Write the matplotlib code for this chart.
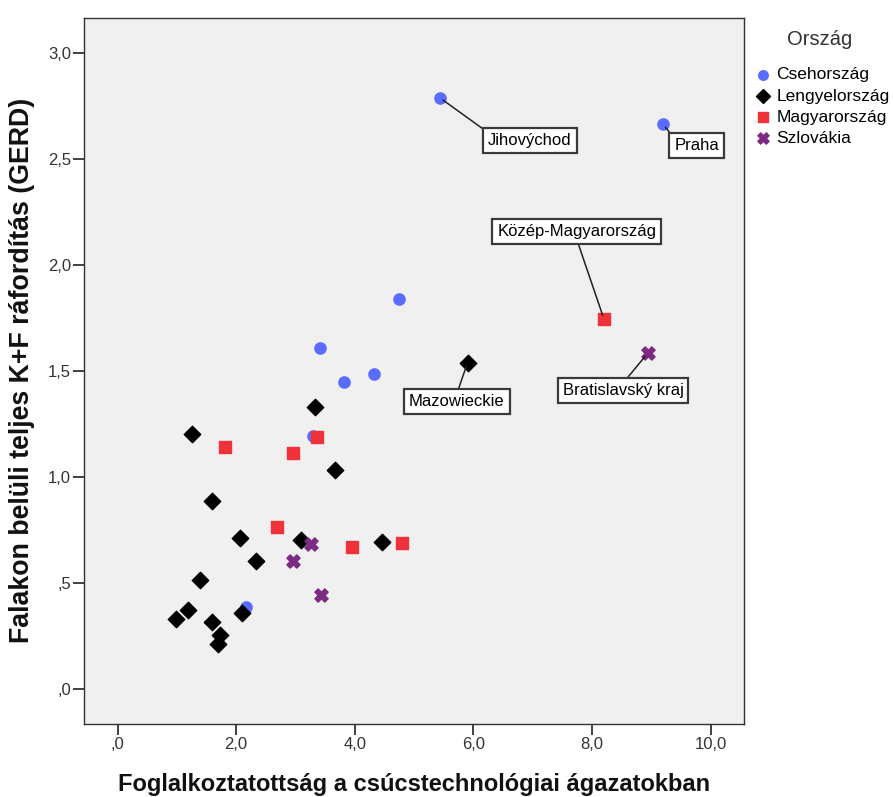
import matplotlib.pyplot as plt

plt.rcParams['font.family'] = ['Liberation Sans', 'DejaVu Sans']

# Csehország
cz_x = [5.43, 9.19, 4.75, 3.42, 3.82, 4.33, 3.29, 2.16]
cz_y = [2.79, 2.665, 1.84, 1.61, 1.45, 1.485, 1.193, 0.388]
# Lengyelország
pl_x = [5.90, 3.33, 1.26, 3.66, 1.60, 2.06, 3.09, 4.46, 2.33, 1.39, 1.19, 0.99, 1.60, 2.09, 1.73, 1.69]
pl_y = [1.539, 1.329, 1.203, 1.033, 0.887, 0.714, 0.703, 0.692, 0.605, 0.514, 0.373, 0.330, 0.318, 0.357, 0.255, 0.211]
# Magyarország
hu_x = [8.20, 1.82, 2.96, 3.37, 2.69, 3.96, 4.80]
hu_y = [1.745, 1.143, 1.115, 1.190, 0.764, 0.671, 0.689]
# Szlovákia
sk_x = [8.94, 3.26, 2.96, 3.43]
sk_y = [1.585, 0.683, 0.604, 0.443]

# labelled regions: (name, point x, point y)
labels = [
    ("Jihovýchod", cz_x[0], cz_y[0]),
    ("Praha", cz_x[1], cz_y[1]),
    ("Közép-Magyarország", hu_x[0], hu_y[0]),
    ("Mazowieckie", pl_x[0], pl_y[0]),
    ("Bratislavský kraj", sk_x[0], sk_y[0]),
]
# where the boxes sit and which corner the leader line leaves from
label_pos = [(6.95, 2.59), (9.76, 2.566), (7.74, 2.158), (5.72, 1.358), (8.52, 1.407)]
label_rel = [(0, 1), (0, 1), (0.5, 0), (0.5, 1), (0.5, 1)]

xticks = [0, 2, 4, 6, 8, 10]
xtick_labels = [",0", "2,0", "4,0", "6,0", "8,0", "10,0"]
yticks = [0, 0.5, 1.0, 1.5, 2.0, 2.5, 3.0]
ytick_labels = [",0", ",5", "1,0", "1,5", "2,0", "2,5", "3,0"]

fig = plt.figure(figsize=(8.93, 7.97), dpi=100)
ax = fig.add_axes([0.0944, 0.0922, 0.7387, 0.8853])
ax.set_facecolor('#f0f0f0')

ax.scatter(cz_x, cz_y, marker='o', s=65, color='#5a6bff', label='Csehország', zorder=3)
ax.scatter(pl_x, pl_y, marker='D', s=70, color='black', label='Lengyelország', zorder=3)
ax.scatter(hu_x, hu_y, marker='s', s=70, color='#f0333a', label='Magyarország', zorder=3)
ax.scatter(sk_x, sk_y, marker='X', s=90, color='#7d2a84', label='Szlovákia', zorder=3)

for (name, px, py), (tx, ty), rel in zip(labels, label_pos, label_rel):
    ax.annotate(name, xy=(px, py), xytext=(tx, ty), fontsize=12,
                ha='center', va='center', zorder=4,
                bbox=dict(boxstyle='square,pad=0.3', fc='white', ec='#3a3a3a', lw=1.6),
                arrowprops=dict(arrowstyle='-', color='#222222', lw=1.1,
                                relpos=rel, shrinkA=0, shrinkB=3))

ax.set_xlim(-0.56, 10.56)
ax.set_ylim(-0.163, 3.166)
ax.set_xticks(xticks)
ax.set_xticklabels(xtick_labels)
ax.set_yticks(yticks)
ax.set_yticklabels(ytick_labels)
ax.tick_params(direction='out', length=8, width=1.3, color='#333333',
               labelsize=12, labelcolor='#333333', pad=1.5)
for sp in ax.spines.values():
    sp.set_color('#333333')
    sp.set_linewidth(1.0)

ax.set_xlabel("Foglalkoztatottság a csúcstechnológiai ágazatokban",
              fontsize=17, fontweight='bold', labelpad=15, color='#111111')
ax.set_ylabel("Falakon belüli teljes K+F ráfordítás (GERD)",
              fontsize=19.3, fontweight='bold', labelpad=9, color='#111111')

leg = fig.legend(loc='upper left', bbox_to_anchor=(0.846, 0.9155), frameon=False,
                 fontsize=12.5, handletextpad=0.3, borderaxespad=0,
                 labelspacing=0.34, handlelength=0.9, markerscale=0.85, borderpad=0)
fig.text(0.918, 0.95, 'Ország', fontsize=14.5, color='#333333', ha='center', va='center')

fig.savefig('out.png', dpi=100)
